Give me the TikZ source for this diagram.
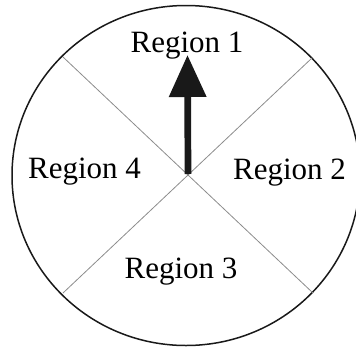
\documentclass[tikz,border=0pt]{standalone}
\usepackage{fontspec}
\setmainfont{Liberation Serif}
\usepackage{tikz}
\usetikzlibrary{positioning,calc,arrows.meta}

\tikzset{
    divider/.style={draw=black!45,line width=0.8pt},
    rim/.style={draw=black!90,line width=1.5pt},
    regionlabel/.style={font=\fontsize{31}{36}\selectfont,anchor=base,inner sep=0pt},
    pointer/.style={-{Triangle[length=42pt,width=36pt]},line width=6.7pt,draw=black!90}
}

\begin{document}
\begin{tikzpicture}[x=1pt,y=-1pt]
    \useasboundingbox (0,0) rectangle (356,346);
    % outer dial
    \coordinate (dial) at (186,175.5);
    \draw[rim] (dial) ellipse [x radius=174, y radius=170];
    % dividing lines
    \coordinate (nw) at (63,57);
    \coordinate (se) at (313,293);
    \coordinate (ne) at (312,58);
    \coordinate (sw) at (63,293);
    \draw[divider] (nw) -- (se);
    \draw[divider] (ne) -- (sw);
    % region labels
    \node[regionlabel] (reg1) at (187,52) {Region 1};
    \node[regionlabel] (reg2) at (289.5,179) {Region 2};
    \node[regionlabel] (reg3) at (181,278) {Region 3};
    \node[regionlabel] (reg4) at (84.5,178) {Region 4};
    % pointer
    \coordinate (hub) at (188,174);
    \coordinate (tip) at (187.5,55);
    \draw[pointer] (hub) -- (tip);
\end{tikzpicture}
\end{document}
